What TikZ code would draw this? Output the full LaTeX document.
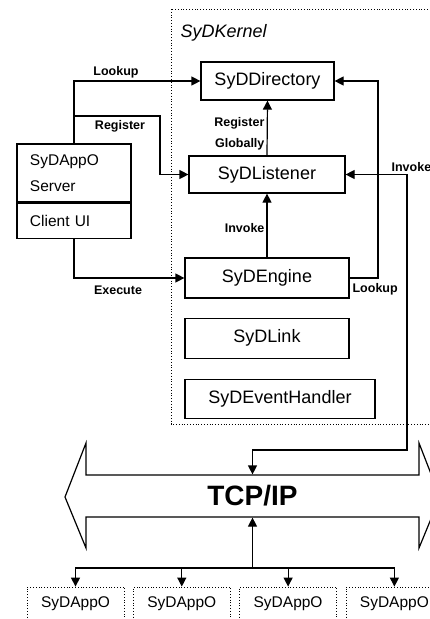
\documentclass[tikz,border=0pt]{standalone}
\usepackage{fontspec}
\setmainfont{Liberation Sans}
\usetikzlibrary{arrows.meta,positioning,calc}

\begin{document}
\begin{tikzpicture}[x=1pt, y=-1pt, line width=1.2pt, every node/.style={inner sep=0pt},
  box/.style={draw, font=\fontsize{18}{20}\selectfont},
  lbl/.style={font=\bfseries\fontsize{12.5}{21}\selectfont},
  appbox/.style={draw, dotted, line width=0.8pt, minimum width=97pt, minimum height=34pt, font=\fontsize{15.5}{18}\selectfont},
  arr/.style={-{Triangle[length=9pt,width=9pt]}},
  darr/.style={{Triangle[length=9pt,width=9pt]}-{Triangle[length=9pt,width=9pt]}}]
\useasboundingbox (0,0) rectangle (430,619);
\clip (0,0) rectangle (430,619);

% kernel
\draw[dotted, line width=0.8pt] (171,9) rectangle (450,424);
\node[anchor=west, font=\itshape\fontsize{18}{20}\selectfont] (kname) at (180,33) {SyDKernel};
\node[box, minimum width=133pt, minimum height=38pt] (dir) at (267.5,81) {SyDDirectory};
\node[box, minimum width=156pt, minimum height=37pt] (lis) at (267,174.5) {SyDListener};
\node[box, minimum width=164pt, minimum height=40pt] (eng) at (267,278) {SyDEngine};
\node[box, minimum width=164pt, minimum height=40pt, below=19pt of eng] (link) {SyDLink};
\node[box, minimum width=190pt, minimum height=39pt, below right=20pt and 0pt of link.south west] (evt) {SyDEventHandler};

% application
\node[draw, minimum width=114pt, minimum height=58pt, text width=88pt, align=left, font=\fontsize{15.5}{26}\selectfont] (server) at (74,173) {SyDAppO\\Server};
\node[draw, minimum width=114pt, minimum height=35pt, text width=88pt, align=left, font=\fontsize{15.5}{18}\selectfont, below=0pt of server] (client) {Client UI};
\draw[line width=2.5pt] (server.south west) -- (server.south east);

% tcp/ip bus
\draw (65,497) -- (86,443) -- (86,475) -- (419,475) -- (419,443) -- (440,497) -- (419,548) -- (419,517) -- (86,517) -- (86,548) -- cycle;
\node[minimum width=333pt, minimum height=42pt, font=\bfseries\fontsize{28}{30}\selectfont] (tcp) at (252.5,496) {TCP/IP};

% remote applications
\node[appbox] (app1) at (75.5,604) {SyDAppO};
\node[appbox, right=8.5pt of app1] (app2) {SyDAppO};
\node[appbox, right=8.5pt of app2] (app3) {SyDAppO};
\node[appbox, right=8.5pt of app3] (app4) {SyDAppO};

\coordinate (regfork) at (server.north |- 0,116);
\coordinate (regbend) at (160,116);
\coordinate (lookbend) at (378,0);
\coordinate (invbend) at (407,450);
\coordinate (bus) at (tcp.south |- 0,568);

\draw[arr] (server.north) |- (dir.west);
\draw[arr] (regfork) -- (regbend) |- (lis.west);
\draw[arr] (lis.north) -- (dir.south);
\draw[arr] (eng.north) -- (lis.south);
\draw[arr] (client.south) |- (eng.west);
\draw[arr] (eng.east) -- (eng.east -| lookbend) |- (dir.east);
\draw[darr] (lis.east) -| (invbend) -| (tcp.north);
\draw[arr] (bus) -- (tcp.south);
\foreach \i in {1,...,4}
  \draw[arr] (bus) -| (app\i.north);

\node[lbl] (llookup) at (116,72) {Lookup};
\node[lbl] (lregister) at (120,126) {Register};
\node[lbl, anchor=east, align=right] (lglobal) at (265,134) {Register\\Globally};
\node[lbl, anchor=west] (linvoke) at (391,167) {Invoke};
\node[lbl, anchor=east] (lcall) at (265,228) {Invoke};
\node[lbl, anchor=west] (lfind) at (352,289) {Lookup};
\node[lbl] (lexec) at (118,290) {Execute};
\end{tikzpicture}
\end{document}
